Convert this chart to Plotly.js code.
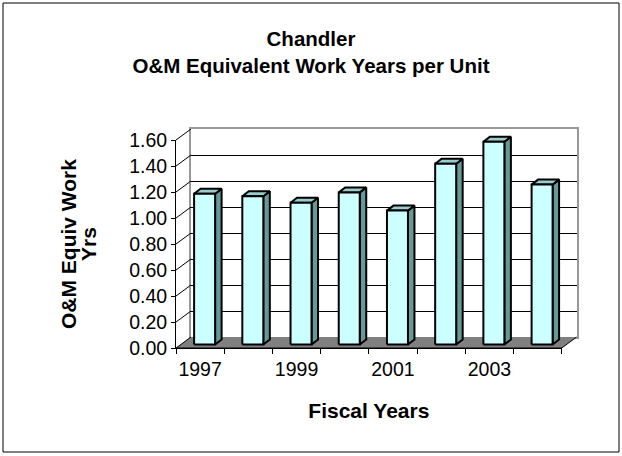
<!DOCTYPE html>
<html>
<head>
<meta charset="utf-8">
<script src="https://cdn.plot.ly/plotly-3.0.1.min.js"></script>
<style>
  html, body { margin: 0; padding: 0; background: #fff; }
  #plot { width: 622px; height: 456px; }
</style>
</head>
<body>
<div id="plot"></div>
<script>
// data
let years = ['1997', '1998', '1999', '2000', '2001', '2002', '2003', '2004'];
let workYears = [1.16, 1.14, 1.09, 1.17, 1.03, 1.39, 1.56, 1.23];
let yTicks = [0, 0.2, 0.4, 0.6, 0.8, 1.0, 1.2, 1.4, 1.6];
let labelIdx = [0, 2, 4, 6];

document.addEventListener("DOMContentLoaded", function () {
    const W = 622, H = 456;
    const px = v => v / W;
    const py = v => 1 - v / H;

    // front axes box (pixels) and the 3d depth of the floor
    const X0 = 176, X1 = 561.7, Y0 = 348, Y1 = 140;
    const DX = 15, DY = 11;
    const n = years.length;
    const catW = (X1 - X0) / n;
    const unitY = (Y0 - Y1) / 1.6;
    const dxU = DX / catW, dyU = DY / unitY;

    // bar shape in pixels, turned into axis units
    const fL = -6 / catW, fR = 15 / catW, fB = 3.5 / unitY;
    const bdx = 6.5 / catW, bdy = 5 / unitY;

    let fx = [], fy = [], sx = [], sy = [], tx = [], ty = [];
    workYears.forEach((v, i) => {
        let l = i + fL, r = i + fR, b = fB, t = fB + v;
        fx.push(l, r, r, l, l, null);
        fy.push(b, b, t, t, b, null);
        sx.push(r, r + bdx, r + bdx, r, r, null);
        sy.push(b, b + bdy, t + bdy, t, b, null);
        tx.push(l, r, r + bdx, l + bdx, l, null);
        ty.push(t, t, t + bdy, t + bdy, t, null);
    });

    let wallX = [], wallY = [];
    yTicks.forEach(v => {
        wallX.push(-0.5, -0.5 + dxU, null);
        wallY.push(v, v + dyU, null);
    });

    let ov = { xaxis: 'x3', yaxis: 'y3', hoverinfo: 'skip', showlegend: false, mode: 'lines' };
    let traces = [
        // empty traces so the back wall and the front axes get drawn
        { x: [], y: [], xaxis: 'x', yaxis: 'y', mode: 'lines', showlegend: false, hoverinfo: 'skip' },
        { x: [], y: [], xaxis: 'x2', yaxis: 'y2', mode: 'lines', showlegend: false, hoverinfo: 'skip' },
        Object.assign({}, ov, {
            x: [-0.5, n - 0.5, n - 0.5 + dxU, -0.5 + dxU, -0.5],
            y: [0, 0, dyU, dyU, 0],
            fill: 'toself', fillcolor: '#808080', line: { width: 0 }
        }),
        Object.assign({}, ov, { x: wallX, y: wallY, line: { color: '#000', width: 1 } }),
        Object.assign({}, ov, {
            x: [-0.5, n - 0.5, n - 0.5 + dxU], y: [0, 0, dyU],
            line: { color: '#000', width: 1 }
        }),
        Object.assign({}, ov, { x: sx, y: sy, fill: 'toself', fillcolor: '#669999', line: { color: '#000', width: 2 } }),
        Object.assign({}, ov, { x: tx, y: ty, fill: 'toself', fillcolor: '#99CCCC', line: { color: '#000', width: 2 } }),
        Object.assign({}, ov, { x: fx, y: fy, fill: 'toself', fillcolor: '#CCFFFF', line: { color: '#000', width: 2 } })
    ];

    const font = 'Liberation Sans, Arial, sans-serif';

    let layout = {
        width: W, height: H,
        margin: { l: 0, r: 0, t: 0, b: 0 },
        paper_bgcolor: '#fff',
        plot_bgcolor: 'rgba(0,0,0,0)',
        font: { family: font, color: '#000', size: 19.5 },
        showlegend: false,
        title: {
            text: 'Chandler<br>O&M Equivalent Work Years per Unit',
            font: { family: font, size: 20.5, weight: 700, color: '#000' },
            x: 0.5, xanchor: 'center', xref: 'paper',
            y: py(46), yanchor: 'middle', yref: 'container'
        },
        // back wall
        xaxis: {
            domain: [px(X0 + DX), px(X1 + DX)], anchor: 'y', range: [-0.5, n - 0.5],
            showgrid: false, zeroline: false, showticklabels: false, ticks: '',
            showline: true, mirror: true, linecolor: '#999', linewidth: 2, fixedrange: true
        },
        yaxis: {
            domain: [py(Y0 - DY), py(Y1 - DY)], anchor: 'x', range: [0, 1.6],
            tickvals: yTicks, showgrid: true, gridcolor: '#000', gridwidth: 1,
            zeroline: false, showticklabels: false, ticks: '',
            showline: true, mirror: true, linecolor: '#999', linewidth: 2, fixedrange: true
        },
        // front axes with labels
        xaxis2: {
            domain: [px(X0), px(X1)], anchor: 'y2', range: [-0.5, n - 0.5],
            tickvals: labelIdx, ticktext: labelIdx.map(i => years[i]), ticks: '',
            ticklabelstandoff: 4,
            minor: { tickmode: 'array', tickvals: years.map((_, i) => i - 0.5).concat([n - 0.5]), ticks: 'outside', ticklen: 5, tickcolor: '#000', showgrid: false },
            showgrid: false, zeroline: false, showline: true, linecolor: '#000', linewidth: 1,
            tickfont: { family: font, size: 19.5 },
            title: { text: 'Fiscal Years', font: { family: font, size: 21, weight: 700 }, standoff: 23 },
            fixedrange: true
        },
        yaxis2: {
            domain: [py(Y0), py(Y1)], anchor: 'x2', range: [0, 1.6],
            tickvals: yTicks, tickformat: '.2f', ticks: 'outside', ticklen: 4, tickcolor: '#000',
            showgrid: false, zeroline: false, showline: true, linecolor: '#000', linewidth: 1,
            tickfont: { family: font, size: 19.5 },
            fixedrange: true
        },
        // overlay used to draw the 3d pieces
        xaxis3: { domain: [px(X0), px(X1 + DX)], anchor: 'y3', range: [-0.5, n - 0.5 + dxU], visible: false, fixedrange: true },
        yaxis3: { domain: [py(Y0), py(Y1 - DY)], anchor: 'x3', range: [0, 1.6 + dyU], visible: false, fixedrange: true },
        annotations: [
            { text: 'O&M Equiv Work', textangle: -90, xref: 'paper', yref: 'paper', x: px(68), y: py(244),
              xanchor: 'center', yanchor: 'middle', showarrow: false, font: { family: font, size: 21, weight: 700 } },
            { text: 'Yrs', textangle: -90, xref: 'paper', yref: 'paper', x: px(88), y: py(244),
              xanchor: 'center', yanchor: 'middle', showarrow: false, font: { family: font, size: 21, weight: 700 } }
        ],
        shapes: [
            { type: 'rect', xref: 'paper', yref: 'paper', x0: px(3), x1: px(619), y0: py(3), y1: py(452),
              line: { color: '#000', width: 1 }, layer: 'below' }
        ]
    };

    Plotly.newPlot('plot', traces, layout, { displayModeBar: false, staticPlot: true });
});
</script>
</body>
</html>
